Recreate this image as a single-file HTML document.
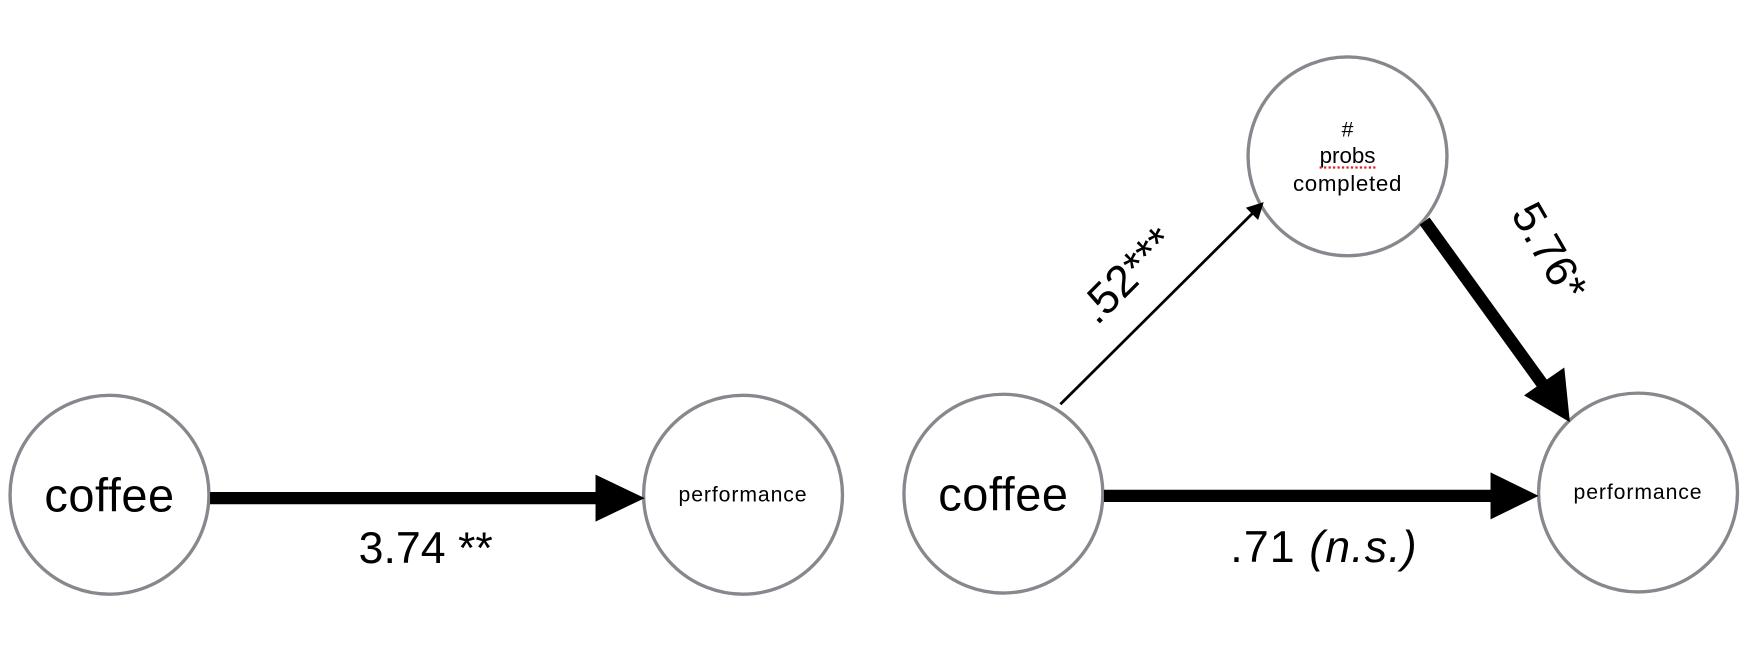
<!DOCTYPE html>
<html><head><meta charset="utf-8"><style>html,body{margin:0;padding:0;background:#fff}svg{display:block}</style></head>
<body>
<svg width="1752" height="650" viewBox="0 0 1568 582" preserveAspectRatio="none" xmlns="http://www.w3.org/2000/svg" font-family="Liberation Sans, sans-serif">
<g fill="#fff" stroke="#88878d" stroke-width="3">
<circle cx="98" cy="443" r="89"/>
<circle cx="665" cy="443" r="89"/>
<circle cx="898" cy="442" r="89"/>
<circle cx="1466" cy="441" r="89"/>
<circle cx="1206" cy="140" r="89"/>
</g>
<line x1="188" y1="446" x2="540" y2="446" stroke="#000" stroke-width="11"/>
<polygon points="533,425 577,446 533,467" fill="#000"/>
<line x1="988" y1="444" x2="1340" y2="444" stroke="#000" stroke-width="11"/>
<polygon points="1334,423 1377,444 1334,465" fill="#000"/>
<line x1="949" y1="362" x2="1125" y2="187" stroke="#000" stroke-width="2.5"/>
<polygon points="1131,181 1126,197 1115,186" fill="#000"/>
<line x1="1275" y1="198" x2="1382" y2="346" stroke="#000" stroke-width="11"/>
<polygon points="1405,378 1364,354 1400,329" fill="#000"/>
<g fill="#000" text-anchor="middle">
<text x="98" y="458" font-size="42" letter-spacing="0.5">coffee</text>
<text x="898" y="457" font-size="42" letter-spacing="0.5">coffee</text>
<text x="665" y="449" font-size="19" letter-spacing="0.8">performance</text>
<text x="1466" y="447" font-size="19" letter-spacing="0.8">performance</text>
<text x="1206" y="122" font-size="19">#</text>
<text x="1206" y="146" font-size="20">probs</text>
<text x="1206" y="171" font-size="20" letter-spacing="0.6">completed</text>
<text x="381" y="504" font-size="40">3.74 **</text>
<text x="1185" y="503" font-size="40" letter-spacing="1">.71 <tspan font-style="italic">(n.s.)</tspan></text>
<text x="0" y="0" font-size="40" transform="translate(1018,256) rotate(-45)">.52***</text>
<text x="0" y="0" font-size="40" transform="translate(1375,232) rotate(60)">5.76*</text>
</g>
<line x1="1181" y1="150" x2="1233" y2="150" stroke="#e02020" stroke-width="2" stroke-dasharray="2,2"/>
</svg>
</body></html>
